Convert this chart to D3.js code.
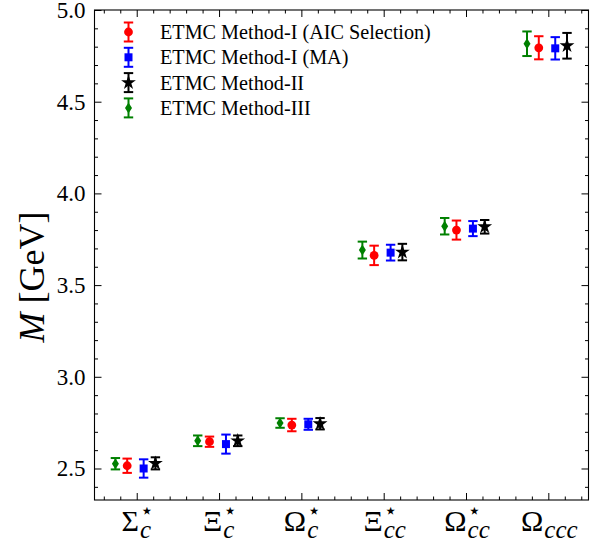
<!DOCTYPE html>
<html><head><meta charset="utf-8">
<script src="https://cdn.jsdelivr.net/npm/d3@7"></script>
<style>body{margin:0;background:#fff} svg{display:block}</style>
</head><body>
<svg id="chart" width="598" height="543"></svg>
<script>
// ---- data ----
const categories = ["Σ", "Ξ", "Ω", "Ξ", "Ω", "Ω"];
const catSub = ["c", "c", "c", "cc", "cc", "ccc"];
const catSup = ["⋆", "⋆", "⋆", "⋆", "⋆", ""];
const seriesNames = ["ETMC Method-I (AIC Selection)", "ETMC Method-I (MA)", "ETMC Method-II", "ETMC Method-III"];
const aicVals = [2.515, 2.646, 2.737, 3.662, 3.800, 4.794];
const aicErr  = [0.039, 0.028, 0.034, 0.053, 0.052, 0.063];
const maVals  = [2.500, 2.633, 2.741, 3.677, 3.808, 4.791];
const maErr   = [0.050, 0.052, 0.030, 0.043, 0.041, 0.061];
const m2Vals  = [2.528, 2.651, 2.744, 3.680, 3.818, 4.805];
const m2Err   = [0.033, 0.029, 0.031, 0.045, 0.037, 0.070];
const m3Vals  = [2.526, 2.651, 2.748, 3.691, 3.821, 4.816];
const m3Err   = [0.031, 0.029, 0.026, 0.046, 0.045, 0.067];
const seriesOffsets = [-0.116, 0.084, 0.227, -0.259];
const yTicks = [2.5, 3.0, 3.5, 4.0, 4.5, 5.0];
const yTickLabels = ["2.5", "3.0", "3.5", "4.0", "4.5", "5.0"];

// ---- layout / style ----
const L = 94.5, R = 588.5, T = 10, B = 500;
const colors = ["#ff0000", "#0000ff", "#000000", "#008000"];
const shapes = ["circle", "square", "star", "diamond"];
const serif = "'Liberation Serif','DejaVu Serif',serif";

const svg = d3.select("#chart");
const x = d3.scaleLinear().domain([-0.513, 5.488]).range([L, R]);
const y = d3.scaleLinear().domain([2.3282, 5.0]).range([B, T]);

const series = [
  {vals: aicVals, errs: aicErr},
  {vals: maVals, errs: maErr},
  {vals: m2Vals, errs: m2Err},
  {vals: m3Vals, errs: m3Err}
].map((s, i) => ({...s, name: seriesNames[i], color: colors[i], shape: shapes[i], off: seriesOffsets[i]}));

const catIdx = d3.range(categories.length);
const xMinor = d3.range(-2, 28).map(k => k * 0.2).filter(v => v > -0.513 && v < 5.488 && Math.abs(v - Math.round(v)) > 1e-6);
const yMinor = d3.range(24, 50).map(k => k / 10).filter(v => v > 2.3282 && Math.abs(v * 2 - Math.round(v * 2)) > 1e-6);

function axisG(axis, tx, ty) {
  const g = svg.append("g").attr("transform", `translate(${tx},${ty})`).call(axis);
  g.select(".domain").remove();
  g.selectAll(".tick line").attr("stroke", "#000").attr("stroke-width", 1);
  return g;
}
const gl = axisG(d3.axisLeft(y).tickValues(yTicks).tickFormat((d, i) => yTickLabels[i]).tickSize(-7).tickPadding(9), L, 0);
gl.selectAll("text").attr("font-family", serif).attr("font-size", 23).attr("fill", "#000");
axisG(d3.axisLeft(y).tickValues(yMinor).tickFormat("").tickSize(-3.5), L, 0);
axisG(d3.axisRight(y).tickValues(yTicks).tickFormat("").tickSize(-7), R, 0);
axisG(d3.axisRight(y).tickValues(yMinor).tickFormat("").tickSize(-3.5), R, 0);
axisG(d3.axisBottom(x).tickValues(catIdx).tickFormat("").tickSize(-7), 0, B);
axisG(d3.axisBottom(x).tickValues(xMinor).tickFormat("").tickSize(-3.5), 0, B);
axisG(d3.axisTop(x).tickValues(catIdx).tickFormat("").tickSize(-7), 0, T);
axisG(d3.axisTop(x).tickValues(xMinor).tickFormat("").tickSize(-3.5), 0, T);

svg.append("rect").attr("x", L).attr("y", T).attr("width", R - L).attr("height", B - T)
  .attr("fill", "none").attr("stroke", "#000").attr("stroke-width", 1.1);

// x category labels: one text element per label, sub/superscript as tspans
catIdx.forEach(i => {
  const t = svg.append("text").attr("x", 0).attr("y", 531).attr("font-family", serif).attr("fill", "#000");
  t.append("tspan").attr("font-size", 30).text(categories[i]);
  let supW = 0;
  if (catSup[i]) {
    const sp = t.append("tspan").attr("font-size", 22).attr("font-family", "'DejaVu Sans',sans-serif")
      .attr("dx", 1).attr("dy", -13).text(catSup[i]);
    supW = sp.node().getComputedTextLength();
  }
  t.append("tspan").attr("font-size", 25).attr("font-style", "italic")
    .attr("dx", catSup[i] ? -supW : 1).attr("dy", catSup[i] ? 20 : 7).text(catSub[i]);
  const bb = t.node().getBBox();
  t.attr("x", x(i) - bb.width / 2 - bb.x + 1);
});

// y label
const yl = svg.append("text").attr("transform", `translate(44,277) rotate(-90)`)
  .attr("text-anchor", "middle").attr("font-family", serif).attr("font-size", 36).attr("fill", "#000");
yl.append("tspan").attr("font-style", "italic").text("M");
yl.append("tspan").text(" [GeV]");

function marker(sel, shape, color) {
  if (shape === "circle") sel.append("circle").attr("r", 4.4).attr("fill", color);
  else if (shape === "square") sel.append("rect").attr("x", -4).attr("y", -4).attr("width", 8).attr("height", 8).attr("fill", color);
  else if (shape === "star") sel.append("path").attr("d", d3.symbol(d3.symbolStar, 68)()).attr("fill", color);
  else sel.append("path").attr("d", "M0,-5.5L3.5,0L0,5.5L-3.5,0Z").attr("fill", color);
}
function errbar(g, cx, y1, y2, color) {
  g.append("line").attr("x1", cx).attr("x2", cx).attr("y1", y1).attr("y2", y2).attr("stroke", color).attr("stroke-width", 2);
  [y1, y2].forEach(yy => g.append("line").attr("x1", cx - 4.7).attr("x2", cx + 4.7).attr("y1", yy).attr("y2", yy)
    .attr("stroke", color).attr("stroke-width", 2));
}

const plot = svg.append("g");
series.forEach(s => {
  const g = plot.append("g");
  s.vals.forEach((v, i) => {
    const cx = x(i + s.off);
    errbar(g, cx, y(v + s.errs[i]), y(v - s.errs[i]), s.color);
    marker(g.append("g").attr("transform", `translate(${cx},${y(v)})`), s.shape, s.color);
  });
});

series.forEach((s, i) => {
  const cy = 32 + i * 25.3, cx = 128.5;
  const g = svg.append("g");
  errbar(g, cx, cy - 9.5, cy + 9.5, s.color);
  marker(g.append("g").attr("transform", `translate(${cx},${cy})`), s.shape, s.color);
  g.append("text").attr("x", 160).attr("y", cy).attr("dy", "0.35em").attr("font-family", serif)
    .attr("font-size", 20.2).attr("fill", "#000").text(s.name);
});
</script>
</body></html>
